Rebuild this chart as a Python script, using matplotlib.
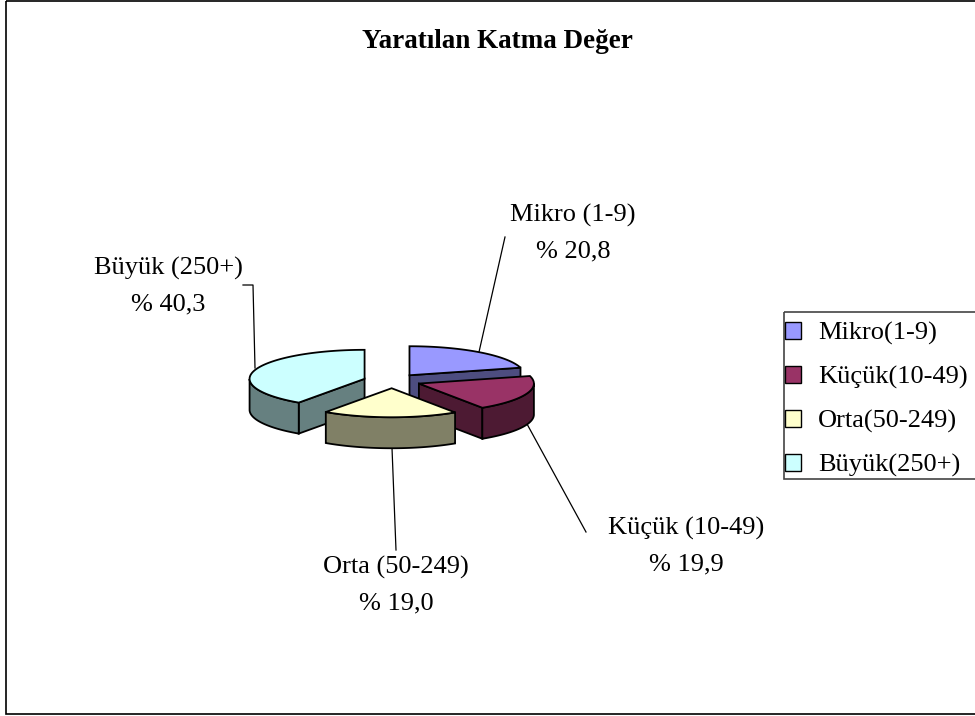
import numpy as np
import matplotlib.pyplot as plt
from matplotlib.patches import Polygon, Rectangle, Patch

plt.rcParams['font.family'] = ['Liberation Serif', 'DejaVu Serif']

# data
categories = ["Mikro(1-9)", "Küçük(10-49)", "Orta(50-249)", "Büyük(250+)"]
label_names = ["Mikro (1-9)", "Küçük (10-49)", "Orta (50-249)", "Büyük (250+)"]
shares = [20.8, 19.9, 19.0, 40.3]
top_colors = ["#9999FF", "#993366", "#FFFFCC", "#CCFFFF"]
side_colors = ["#4D4D80", "#4D1A33", "#808066", "#668080"]

# pie layout (pixels)
cx, cy = 392, 381
rx, ry = 115, 29
thick = 31
explode = 0.25

# label anchors (centre of first line) and leader lines
label_pos = [(573, 215), (686, 528), (396, 567), (168, 268)]
leaders = [
    [(505, 237), (479, 352)],
    [(527, 424), (586, 532)],
    [(392, 448), (396, 550)],
    [(243, 285), (253, 285), (255, 368)],
]

fig = plt.figure(figsize=(9.75, 7.16), dpi=100)
ax = fig.add_axes([0, 0, 1, 1])
ax.set_xlim(0, 975)
ax.set_ylim(716, 0)
ax.axis('off')

# chart frame
ax.add_patch(Rectangle((6, 1), 1000, 713, fill=False, ec='black', lw=1.2, zorder=0))


def pt(ox, oy, t, z=0.0):
    return (cx + rx * (ox + np.cos(t)), cy - ry * (oy + np.sin(t)) + z)


total = sum(shares)
bounds = np.cumsum([0] + shares) / total * 360.0
slices = []
for i, v in enumerate(shares):
    a_hi = np.radians(90 - bounds[i])
    a_lo = np.radians(90 - bounds[i + 1])
    mid = (a_hi + a_lo) / 2
    ox, oy = explode * np.cos(mid), explode * np.sin(mid)
    slices.append((np.sin(mid), i, a_lo, a_hi, ox, oy))

# back to front
order = sorted(slices, key=lambda s: -s[0])
for depth, (_, i, a_lo, a_hi, ox, oy) in enumerate(order):
    z0 = 2 + depth * 3
    apex_t = (cx + rx * ox, cy - ry * oy)
    apex_b = (apex_t[0], apex_t[1] + thick)
    # radial cut faces
    for a, n in ((a_lo, a_lo - np.pi / 2), (a_hi, a_hi + np.pi / 2)):
        if np.sin(n) < -1e-6:
            rim_t = pt(ox, oy, a)
            rim_b = pt(ox, oy, a, thick)
            ax.add_patch(Polygon([apex_t, rim_t, rim_b, apex_b], closed=True,
                                 fc=side_colors[i], ec='black', lw=1.3, zorder=z0))
    # outer wall
    ts = np.linspace(a_lo, a_hi, 200)
    ts = ts[np.sin(ts) < 0]
    if len(ts) > 1:
        top = [pt(ox, oy, t) for t in ts]
        bot = [pt(ox, oy, t, thick) for t in ts[::-1]]
        ax.add_patch(Polygon(top + bot, closed=True, fc=side_colors[i],
                             ec='black', lw=1.3, zorder=z0 + 1))
    # top face
    ts = np.linspace(a_lo, a_hi, 200)
    face = [apex_t] + [pt(ox, oy, t) for t in ts]
    ax.add_patch(Polygon(face, closed=True, fc=top_colors[i], ec='black',
                         lw=1.3, zorder=z0 + 2))

# data labels
for i, name in enumerate(label_names):
    x, y = label_pos[i]
    ax.text(x, y, name, ha='center', va='center', fontsize=19)
    pct = "% " + f"{shares[i]:.1f}".replace('.', ',')
    ax.text(x, y + 36, pct, ha='center', va='center', fontsize=19)
    xs, ys = zip(*leaders[i])
    ax.plot(xs, ys, color='black', lw=0.9, zorder=1)

ax.text(497, 41, "Yaratılan Katma Değer", ha='center', va='center',
        fontsize=19.5, fontweight='bold')

# legend (box runs off the right edge like the original)
ax.add_patch(Rectangle((784, 312), 250, 167, fill=False, ec='#444444', lw=1.2, zorder=1))
handles = [Patch(fc=top_colors[i], ec='black', lw=1.0) for i in range(len(categories))]
leg = fig.legend(handles, categories, loc='upper left',
                 bbox_to_anchor=(785 / 975, 1 - 322 / 716),
                 fontsize=19, frameon=False, borderpad=0,
                 handlelength=0.62, handleheight=0.62, handletextpad=0.62,
                 labelspacing=0.78, borderaxespad=0)

fig.savefig("out.png", dpi=100)
